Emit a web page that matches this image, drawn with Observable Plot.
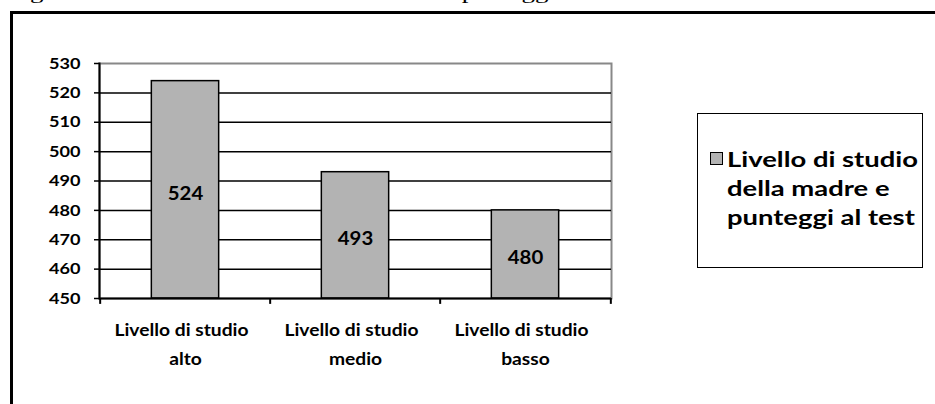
<!DOCTYPE html>
<html>
<head>
<meta charset="utf-8">
<script src="https://cdn.jsdelivr.net/npm/d3@7"></script>
<script src="https://cdn.jsdelivr.net/npm/@observablehq/plot@0.6"></script>
<style>
  html, body { margin: 0; padding: 0; background: #fff; overflow: hidden; }
  #wrap { position: relative; width: 935px; height: 404px; overflow: hidden; }
  #frame { position: absolute; left: 10px; top: 11px; width: 1000px; height: 500px;
           border-left: 3px solid #000; border-top: 3px solid #000; box-sizing: border-box; }
  #chart { position: absolute; left: 0; top: 0; }
  #legend { position: absolute; left: 697px; top: 113px; width: 226px; height: 155px;
            border: 1.5px solid #000; box-sizing: border-box; background: #fff;
            font-family: Lato, sans-serif; font-weight: bold; color: #000; }
  #legend .sw { position: absolute; left: 12px; top: 38px; width: 11px; height: 11px;
                background: #b3b3b3; border: 1px solid #000; }
  #legend .ln { position: absolute; left: 29px; white-space: nowrap; font-size: 21px;
                transform-origin: 0 50%; line-height: 1; }
  #title { position: absolute; left: 0; top: 0; }
</style>
</head>
<body>
<div id="wrap">
  <svg id="title" width="935" height="12"><text id="ttext" y="0" font-family="Liberation Serif" font-size="18"></text></svg>
  <div id="frame"></div>
  <div id="chart"></div>
  <div id="legend"><div class="sw"></div></div>
</div>
<script>
const categories = ["alto", "medio", "basso"];
const values = [524, 493, 480];
const labelLine1 = ["Livello di studio", "Livello di studio", "Livello di studio"];
const labelLine2 = ["alto", "medio", "basso"];
const yTicks = [450, 460, 470, 480, 490, 500, 510, 520, 530];
const seriesName = ["Livello di studio", "della madre e", "punteggi al test"];
const titlePre = "Figura 4 – Livello di studio della madre e ";
const titlePost = "punteggi al test";

const data = categories.map((c, i) => ({cat: c, value: values[i], l1: labelLine1[i], l2: labelLine2[i]}));

const W = 935, H = 404, mL = 99, mR = 324, mT = 63, mB = 106;
const bw = (W - mL - mR) / categories.length;
const font = "Lato, sans-serif";

const plot = Plot.plot({
  width: W, height: H,
  marginLeft: mL, marginRight: mR, marginTop: mT, marginBottom: mB,
  style: {fontFamily: font, fontWeight: "bold", fontSize: "16px", color: "#000", background: "transparent", overflow: "visible"},
  x: {type: "band", domain: categories, padding: 0, axis: null},
  y: {domain: [450, 530], ticks: yTicks, axis: null},
  marks: [
    Plot.frame({stroke: "#888", strokeWidth: 2}),
    Plot.ruleY(yTicks.filter(t => t > 450 && t < 530), {stroke: "#000", strokeWidth: 1.5}),
    Plot.barY(data, {x: "cat", y1: 450, y2: "value", fill: "#b3b3b3", stroke: "#000", strokeWidth: 1.5,
                     insetLeft: (bw - 68) / 2, insetRight: (bw - 68) / 2}),
    Plot.axisY({ticks: yTicks, label: null, tickSize: 5, tickPadding: 14, fontSize: 16, fontWeight: "bold", stroke: "#000", strokeWidth: 1.5}),
    Plot.frame({anchor: "left", stroke: "#000", strokeWidth: 2}),
    Plot.ruleY([450], {stroke: "#000", strokeWidth: 2}),
    Plot.ruleX(data, {x: "cat", dx: -bw / 2, y1: 450, y2: 448, stroke: "#000", strokeWidth: 2}),
    Plot.ruleX(data.slice(-1), {x: "cat", dx: bw / 2, y1: 450, y2: 448, stroke: "#000", strokeWidth: 2}),
    Plot.text(data, {x: "cat", y: d => (450 + d.value) / 2, text: d => String(d.value), dy: 4, fontSize: 18, fontWeight: "bold", fill: "#000"}),
    Plot.text(data, {x: "cat", y: 450, text: "l1", dx: -4, dy: 32, fontSize: 17, fontWeight: "bold", fill: "#000"}),
    Plot.text(data, {x: "cat", y: 450, text: "l2", dy: 61, fontSize: 17, fontWeight: "bold", fill: "#000"})
  ]
});
document.getElementById("chart").appendChild(plot);

// horizontal stretch of chart texts (the original chart is widened)
let factor = 1.2;
const texts = Array.from(plot.querySelectorAll("text"));
const ref = texts.find(t => t.textContent === "Livello di studio");
if (ref) factor = 134 / ref.getComputedTextLength();
texts.forEach(t => {
  const tsp = t.querySelectorAll("tspan");
  const els = tsp.length ? Array.from(tsp) : [t];
  els.forEach(e => {
    const L = e.getComputedTextLength();
    if (L > 0) { e.setAttribute("textLength", L * factor); e.setAttribute("lengthAdjust", "spacingAndGlyphs"); }
  });
});

// legend
const leg = document.getElementById("legend");
const lineTops = [34, 63, 92];
seriesName.forEach((s, i) => {
  const d = document.createElement("div");
  d.className = "ln"; d.textContent = s; d.style.top = lineTops[i] + "px";
  leg.appendChild(d);
});
const lns = leg.querySelectorAll(".ln");
const lw = lns[0].getBoundingClientRect().width;
const lf = 191 / lw;
lns.forEach(d => d.style.transform = `scaleX(${lf})`);

// title (only descenders visible at the top edge)
const tt = document.getElementById("ttext");
const ctx = document.createElement("canvas").getContext("2d");
ctx.font = "18px 'Liberation Serif'";
const wFi = ctx.measureText("Fi").width;
const wPre = ctx.measureText(titlePre).width;
const s = (462 - 30) / (wPre - wFi);
const x0 = 30 - s * wFi;
tt.textContent = titlePre + titlePost;
tt.setAttribute("transform", `translate(${x0},-1.5) scale(${s},1)`);
</script>
</body>
</html>
